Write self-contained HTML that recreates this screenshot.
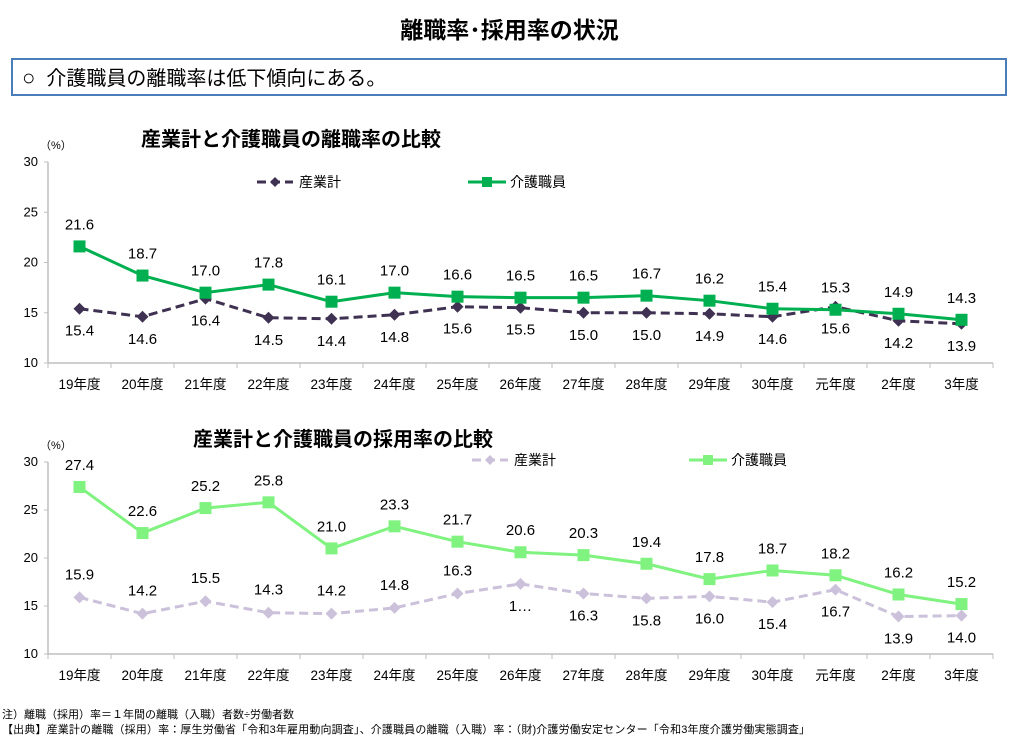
<!DOCTYPE html>
<html><head><meta charset="utf-8">
<style>
body{margin:0;width:1019px;height:744px;background:#fff;font-family:"Liberation Sans","Noto Sans CJK JP",sans-serif;overflow:hidden;position:relative}
.t{position:absolute;white-space:nowrap;color:#000}
</style></head>
<body>
<div class="t" style="left:0;width:1019px;text-align:center;top:11px;font-size:23px;font-weight:bold">離職率･採用率の状況</div>
<div style="position:absolute;left:11px;top:58px;width:992px;height:34px;border:2px solid #4a7ebb;"></div>
<div class="t" style="left:22px;top:62px;font-size:20px"><span style="font-size:22px">○</span>&nbsp; 介護職員の離職率は低下傾向にある。</div>
<svg id="svg" width="1019" height="744" style="position:absolute;left:0;top:0"></svg>
<div class="t" style="left:2px;top:706px;font-size:11px">注）離職（採用）率＝１年間の離職（入職）者数÷労働者数</div>
<div class="t" style="left:2px;top:721px;font-size:11px;letter-spacing:0.15px">【出典】産業計の離職（採用）率：厚生労働省「令和3年雇用動向調査」、介護職員の離職（入職）率：（財)介護労働安定センター「令和3年度介護労働実態調査」</div>
<script>
const categories=["19年度","20年度","21年度","22年度","23年度","24年度","25年度","26年度","27年度","28年度","29年度","30年度","元年度","2年度","3年度"];
const yTicks=[10,15,20,25,30];
const sepIndustry=[15.4,14.6,16.4,14.5,14.4,14.8,15.6,15.5,15.0,15.0,14.9,14.6,15.6,14.2,13.9];
const sepCare=[21.6,18.7,17.0,17.8,16.1,17.0,16.6,16.5,16.5,16.7,16.2,15.4,15.3,14.9,14.3];
const hireIndustry=[15.9,14.2,15.5,14.3,14.2,14.8,16.3,17.3,16.3,15.8,16.0,15.4,16.7,13.9,14.0];
const hireIndustryLabels=["15.9","14.2","15.5","14.3","14.2","14.8","16.3","1…","16.3","15.8","16.0","15.4","16.7","13.9","14.0"];
const hireCare=[27.4,22.6,25.2,25.8,21.0,23.3,21.7,20.6,20.3,19.4,17.8,18.7,18.2,16.2,15.2];
const hireIndustryAbove=[1,1,1,1,1,1,1,0,0,0,0,0,0,0,0];

const svg=document.getElementById('svg');
const NS='http://www.w3.org/2000/svg';
function mk(tag,attrs,parent){const e=document.createElementNS(NS,tag);for(const k in attrs)e.setAttribute(k,attrs[k]);(parent||svg).appendChild(e);return e;}
function txt(x,y,s,size,anchor,weight){const e=mk('text',{x:x,y:y,'font-size':size,'text-anchor':anchor||'middle','font-family':'"Liberation Sans","Noto Sans CJK JP",sans-serif','font-weight':weight||'normal',fill:'#000'});e.textContent=s;return e;}

function chart(o){
  const X0=48,X1=993,step=(X1-X0)/categories.length;
  const xs=i=>X0+step*(i+0.5);
  const ys=v=>o.yBot-(v-10)/20*(o.yBot-o.yTop);
  let t=txt(o.titleX,o.yTop-16,o.title,20,'start','bold');
  
  t=txt(40,o.yTop-13,'（%）',11,'start');
  let ax=mk('line',{x1:X0,y1:o.yTop,x2:X0,y2:o.yBot,stroke:'#bfbfbf','stroke-width':1.5});
  
  ax=mk('line',{x1:X0,y1:o.yBot,x2:X1,y2:o.yBot,stroke:'#bfbfbf','stroke-width':1.5});
  
  yTicks.forEach(v=>{const y=ys(v);mk('line',{x1:X0-4,y1:y,x2:X0,y2:y,stroke:'#bfbfbf'});
    const l=txt(X0-10,y+4,String(v),13,'end');});
  for(let i=0;i<=categories.length;i++){const x=X0+step*i;mk('line',{x1:x,y1:o.yBot,x2:x,y2:o.yBot+5,stroke:'#bfbfbf'});}
  categories.forEach((c,i)=>{const l=txt(xs(i),o.yBot+26,c,13.5);});
  const g1=mk('g',{});
  mk('polyline',{points:o.ind.map((v,i)=>xs(i)+','+ys(v)).join(' '),fill:'none',stroke:o.indColor,'stroke-width':3,'stroke-dasharray':'9,5'},g1);
  o.ind.forEach((v,i)=>{const x=xs(i),y=ys(v);const p=mk('polygon',{points:`${x},${y-6} ${x+6},${y} ${x},${y+6} ${x-6},${y}`,fill:o.indColor},g1);
    
    const above=o.indAbove(i);const l=txt(x,above?y-18:y+27,o.indLabel(i),15);
    });
  const g2=mk('g',{});
  mk('polyline',{points:o.care.map((v,i)=>xs(i)+','+ys(v)).join(' '),fill:'none',stroke:o.careColor,'stroke-width':3},g2);
  o.care.forEach((v,i)=>{const x=xs(i),y=ys(v);const p=mk('rect',{x:x-6,y:y-6,width:12,height:12,fill:o.careColor},g2);
    
    const l=txt(x,y-17,v.toFixed(1),15);});
  const lg=mk('g',{});
  const ly=o.legY,a=o.legA,b=o.legB;
  mk('line',{x1:a,y1:ly,x2:a+36,y2:ly,stroke:o.indColor,'stroke-width':3,'stroke-dasharray':'9,5'},lg);
  mk('polygon',{points:`${a+18},${ly-5} ${a+23},${ly} ${a+18},${ly+5} ${a+13},${ly}`,fill:o.indColor},lg);
  let e=txt(a+42,ly+5,'産業計',14,'start');lg.appendChild(e);
  mk('line',{x1:b,y1:ly,x2:b+38,y2:ly,stroke:o.careColor,'stroke-width':3},lg);
  mk('rect',{x:b+14,y:ly-5,width:10,height:10,fill:o.careColor},lg);
  e=txt(b+42,ly+5,'介護職員',14,'start');lg.appendChild(e);
}
chart({id:'separation-chart',title:'産業計と介護職員の離職率の比較',titleX:141,yTop:162,yBot:363,
  ind:sepIndustry,care:sepCare,indColor:'#3f3151',careColor:'#00b050',
  indAbove:i=>false,indLabel:i=>sepIndustry[i].toFixed(1),legY:182,legA:257,legB:468});
chart({id:'hiring-chart',title:'産業計と介護職員の採用率の比較',titleX:193,yTop:462,yBot:654,
  ind:hireIndustry,care:hireCare,indColor:'#ccc1da',careColor:'#7ff27f',
  indAbove:i=>hireIndustryAbove[i]===1,indLabel:i=>hireIndustryLabels[i],legY:460,legA:472,legB:689});
</script>
</body></html>
